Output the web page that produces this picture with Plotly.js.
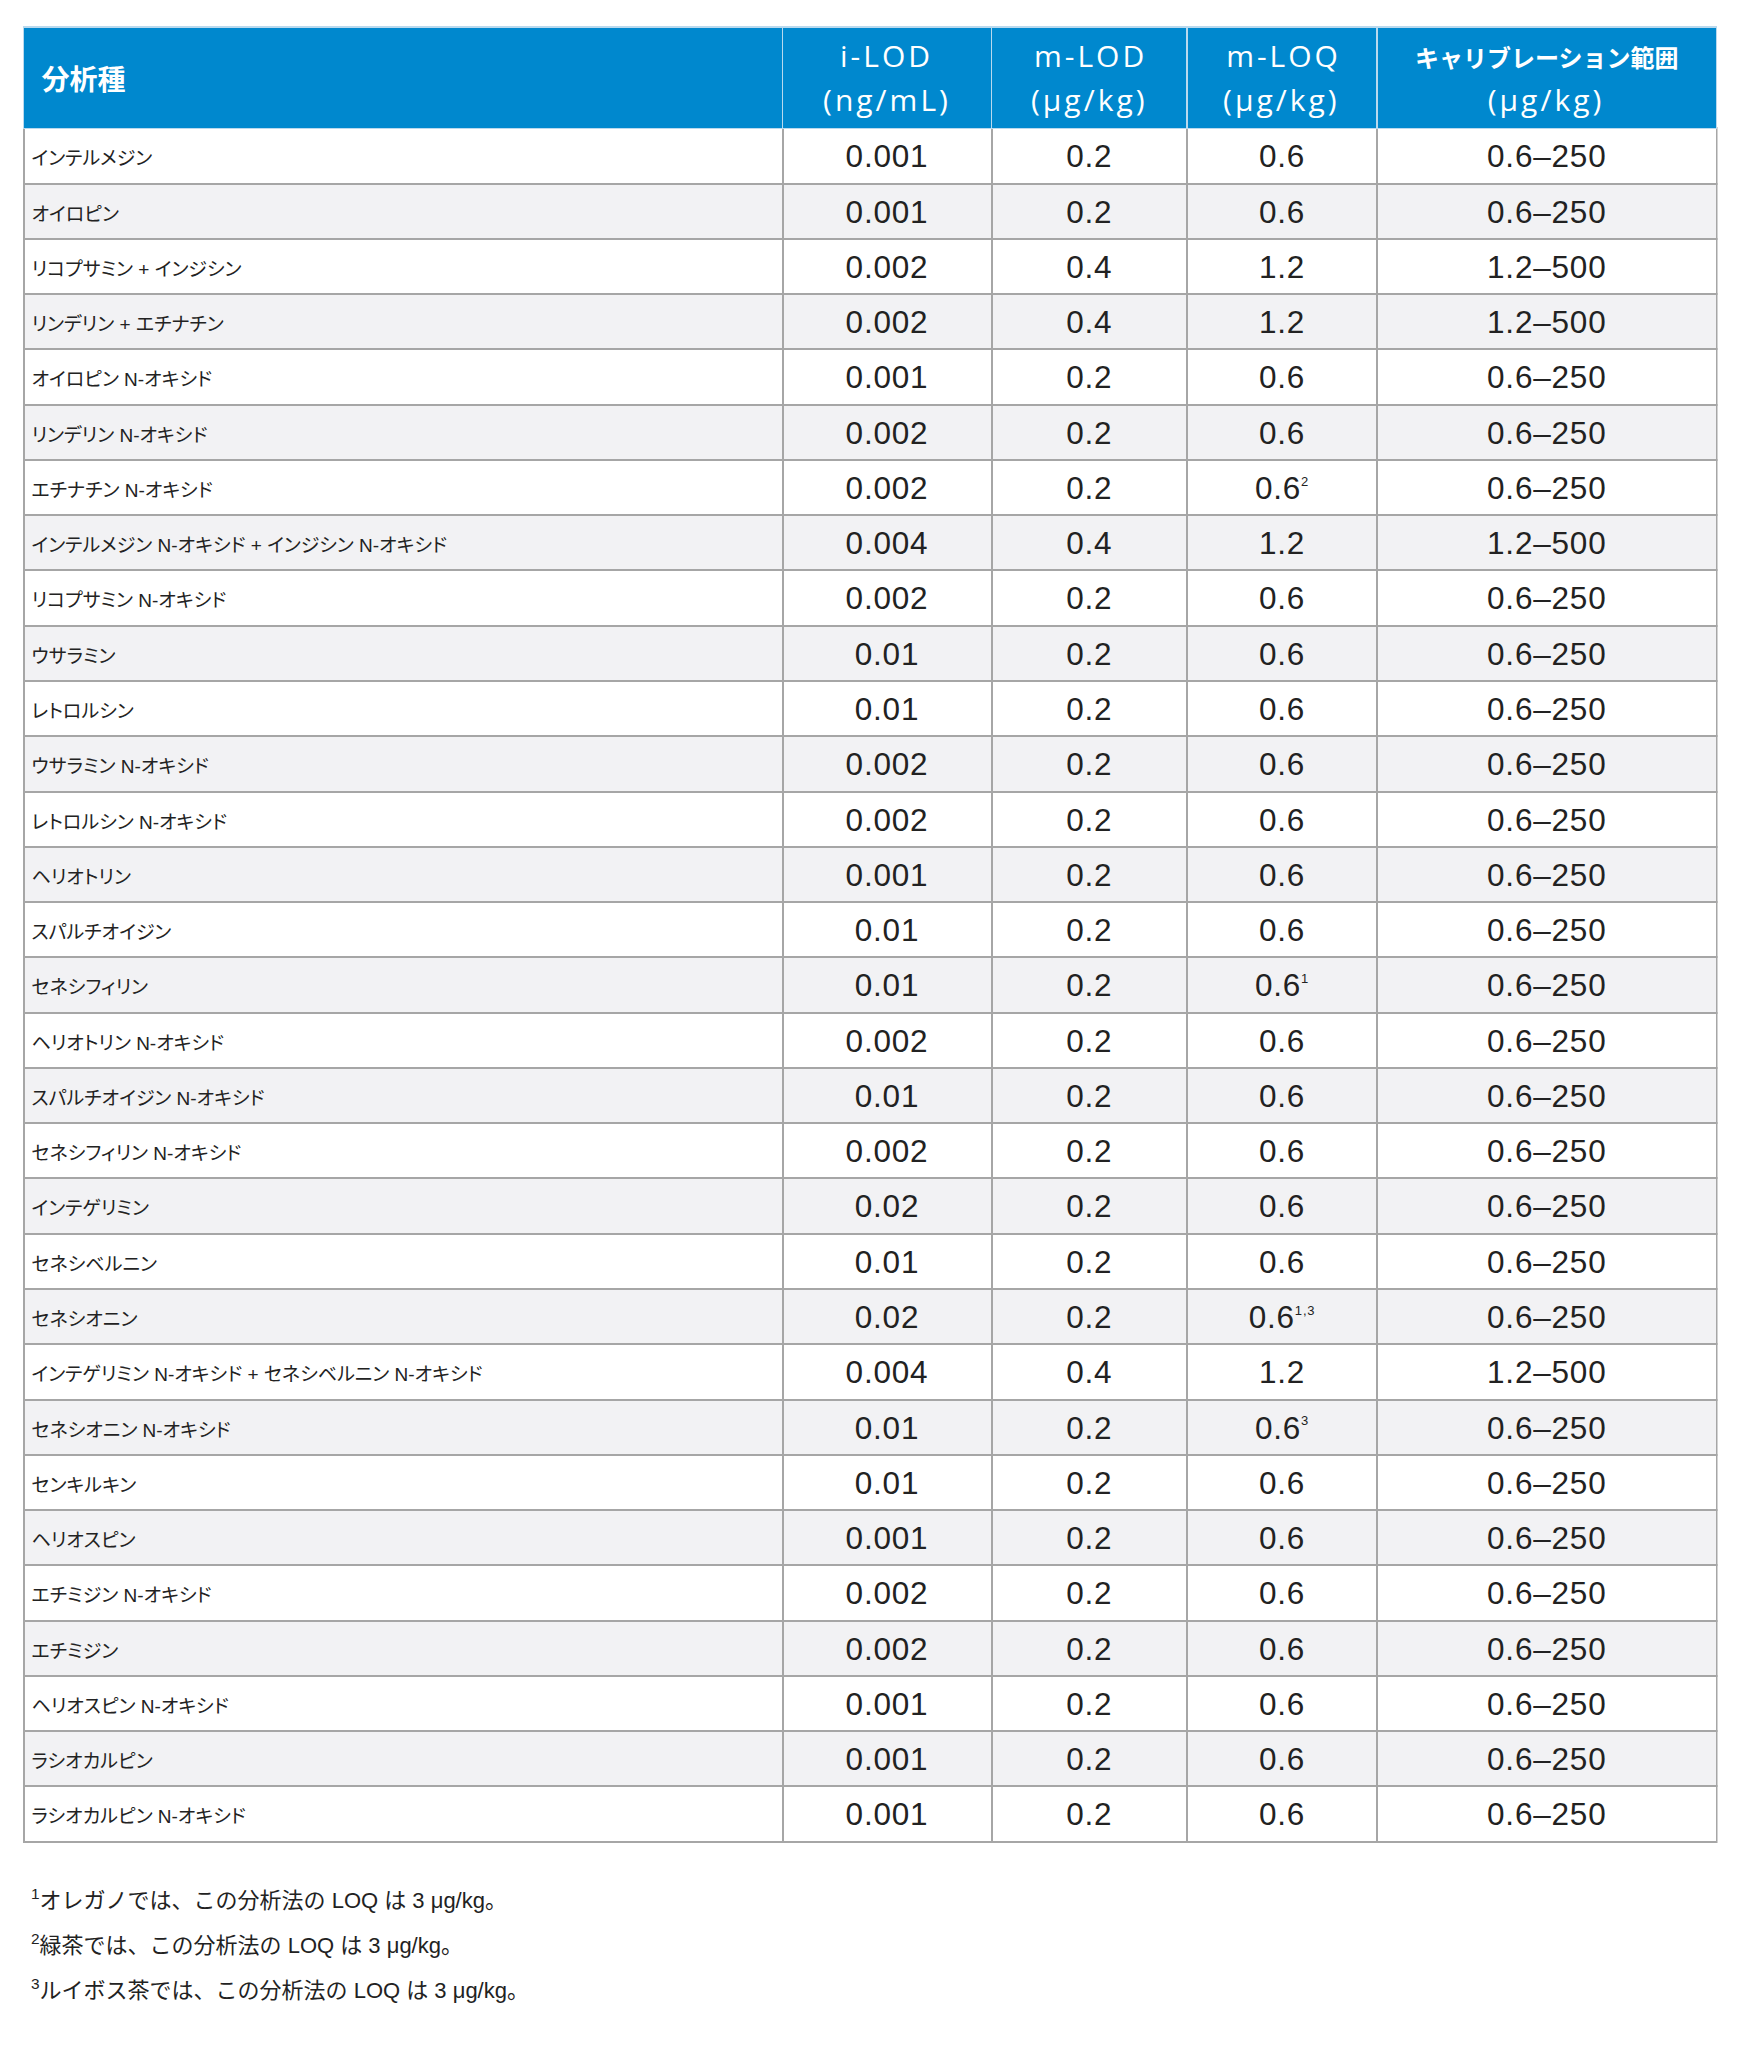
<!DOCTYPE html>
<html>
<head>
<meta charset="utf-8">
<script src="https://cdn.plot.ly/plotly-3.0.1.min.js"></script>
<style>
  html, body { margin: 0; padding: 0; background: #ffffff; }
  #chart { width: 1744px; height: 2048px; }
</style>
</head>
<body>
<div id="chart"></div>
<script>
// ---- data ----
var headerTop = ['分析種', 'i-LOD', 'm-LOD', 'm-LOQ', 'キャリブレーション範囲'];
var headerUnit = ['', '(ng/mL)', '(μg/kg)', '(μg/kg)', '(μg/kg)'];

var analytes = [
  'インテルメジン', 'オイロピン', 'リコプサミン + インジシン', 'リンデリン + エチナチン',
  'オイロピン N-オキシド', 'リンデリン N-オキシド', 'エチナチン N-オキシド',
  'インテルメジン N-オキシド + インジシン N-オキシド', 'リコプサミン N-オキシド',
  'ウサラミン', 'レトロルシン', 'ウサラミン N-オキシド', 'レトロルシン N-オキシド',
  'ヘリオトリン', 'スパルチオイジン', 'セネシフィリン', 'ヘリオトリン N-オキシド',
  'スパルチオイジン N-オキシド', 'セネシフィリン N-オキシド', 'インテゲリミン',
  'セネシベルニン', 'セネシオニン', 'インテゲリミン N-オキシド + セネシベルニン N-オキシド',
  'セネシオニン N-オキシド', 'センキルキン', 'ヘリオスピン', 'エチミジン N-オキシド',
  'エチミジン', 'ヘリオスピン N-オキシド', 'ラシオカルピン', 'ラシオカルピン N-オキシド'
];

var iLOD = ['0.001','0.001','0.002','0.002','0.001','0.002','0.002','0.004','0.002',
  '0.01','0.01','0.002','0.002','0.001','0.01','0.01','0.002','0.01','0.002',
  '0.02','0.01','0.02','0.004','0.01','0.01','0.001','0.002','0.002','0.001','0.001','0.001'];

var mLOD = ['0.2','0.2','0.4','0.4','0.2','0.2','0.2','0.4','0.2',
  '0.2','0.2','0.2','0.2','0.2','0.2','0.2','0.2','0.2','0.2',
  '0.2','0.2','0.2','0.4','0.2','0.2','0.2','0.2','0.2','0.2','0.2','0.2'];

var mLOQ = ['0.6','0.6','1.2','1.2','0.6','0.6','0.6','1.2','0.6',
  '0.6','0.6','0.6','0.6','0.6','0.6','0.6','0.6','0.6','0.6',
  '0.6','0.6','0.6','1.2','0.6','0.6','0.6','0.6','0.6','0.6','0.6','0.6'];

var mLOQNote = ['','','','','','','2','','',
  '','','','','','','1','','','',
  '','','1,3','','3','','','','','','',''];

var calRange = ['0.6–250','0.6–250','1.2–500','1.2–500','0.6–250','0.6–250','0.6–250','1.2–500','0.6–250',
  '0.6–250','0.6–250','0.6–250','0.6–250','0.6–250','0.6–250','0.6–250','0.6–250','0.6–250','0.6–250',
  '0.6–250','0.6–250','0.6–250','1.2–500','0.6–250','0.6–250','0.6–250','0.6–250','0.6–250','0.6–250','0.6–250','0.6–250'];

var footnotes = [
  ['1', 'オレガノでは、この分析法の LOQ は 3 μg/kg。'],
  ['2', '緑茶では、この分析法の LOQ は 3 μg/kg。'],
  ['3', 'ルイボス茶では、この分析法の LOQ は 3 μg/kg。']
];

// ---- build ----
var W = 1744, H = 2048;
var tableLeft = 23.5, tableRight = 1716.5, tableTop = 26.8;
var headerH = 101.5, rowH = 55.27;
var colWidths = [759, 209, 195.5, 190, 339.5];
var NB = '\u00a0';

function span(txt, style) { return '<span style="' + style + '">' + txt + '</span>'; }
function rep(s, n) { var o = ''; for (var i = 0; i < n; i++) o += s; return o; }
// invisible lead-in of a given width (Open Sans no-break space is 0.26em wide)
function gap(px, n) {
  n = n || 1;
  var ls = px / n - 30 * 0.2598;
  return span(rep(NB, n), 'font-size:30px;letter-spacing:' + ls.toFixed(2) + 'px');
}

// Plotly lays out a multi-line cell as one left-aligned block, so the shorter line gets a lead-in
var hStyle = 'font-size:30px;letter-spacing:3px';
var jpBold = 'font-size:24px;font-family:Noto Sans CJK JP';
var headerPad = [0, 16.9, 3, 3.1, 80.5];
var headerText = headerTop.map(function (h, i) {
  if (i === 0) {
    return ['<br>' + span(NB, 'font-size:38px') +
            span('<b>' + h + '</b>', 'font-size:28px;font-family:Noto Sans CJK JP') + NB];
  }
  if (i === 4) {
    return [span(NB, 'font-size:30px') + span('<b>' + h + '</b>', jpBold) + span(NB, 'font-size:30px') +
            '<br>' + gap(headerPad[i], 10) + span(headerUnit[i], hStyle)];
  }
  return [gap(headerPad[i]) + span(h, hStyle) + '<br>' + span(headerUnit[i], hStyle)];
});

var nameStyle = "font-size:19px;font-feature-settings:'palt'";
var nameText = analytes.map(function (v) { return '<br>' + span(v, nameStyle) + NB; });

function numCell(v, note) {
  var inner = note ? v + '<sup>' + span(note, 'font-size:13px') + '</sup>' : v;
  return '<br>' + NB + span(inner, 'font-size:31.5px;letter-spacing:0.8px') + NB;
}
var iLODText = iLOD.map(function (v) { return numCell(v); });
var mLODText = mLOD.map(function (v) { return numCell(v); });
var mLOQText = mLOQ.map(function (v, i) { return numCell(v, mLOQNote[i]); });
var rangeText = calRange.map(function (v) { return numCell(v); });

var rowColors = analytes.map(function (_, i) { return i % 2 === 0 ? '#ffffff' : '#f2f2f4'; });

var tableBottom = tableTop + headerH + rowH * analytes.length + 12;

var trace = {
  type: 'table',
  domain: { x: [tableLeft / W, tableRight / W], y: [1 - tableBottom / H, 1 - tableTop / H] },
  columnwidth: colWidths,
  header: {
    values: headerText,
    align: ['left', 'center', 'center', 'center', 'center'],
    height: headerH,
    fill: { color: '#0088ce' },
    line: { color: '#b9d9ee', width: 1.5 },
    font: {
      family: 'Open Sans, Noto Sans CJK JP',
      size: [51, 34, 34, 34, 34],
      color: '#ffffff'
    }
  },
  cells: {
    values: [nameText, iLODText, mLODText, mLOQText, rangeText],
    align: ['left', 'center', 'center', 'center', 'center'],
    height: rowH,
    fill: { color: [rowColors] },
    line: { color: '#a6a6a6', width: 2 },
    font: {
      family: ['Liberation Sans, Noto Sans CJK JP', 'Liberation Sans', 'Liberation Sans', 'Liberation Sans', 'Liberation Sans'],
      size: [32, 34.25, 34.25, 34.25, 34.25],
      color: '#222222'
    }
  }
};

var annotations = footnotes.map(function (f, i) {
  return {
    xref: 'paper', yref: 'paper',
    x: 29 / W, y: 1 - (1899 + i * 45) / H,
    xanchor: 'left', yanchor: 'middle',
    showarrow: false, align: 'left',
    text: '<sup>' + f[0] + '</sup>' + f[1],
    font: { family: 'Liberation Sans, Noto Sans CJK JP', size: 22, color: '#222222' }
  };
});

var layout = {
  width: W, height: H,
  margin: { l: 0, r: 0, t: 0, b: 0 },
  paper_bgcolor: '#ffffff',
  showlegend: false,
  annotations: annotations
};

Plotly.newPlot('chart', [trace], layout, { displayModeBar: false, staticPlot: true });
</script>
</body>
</html>
